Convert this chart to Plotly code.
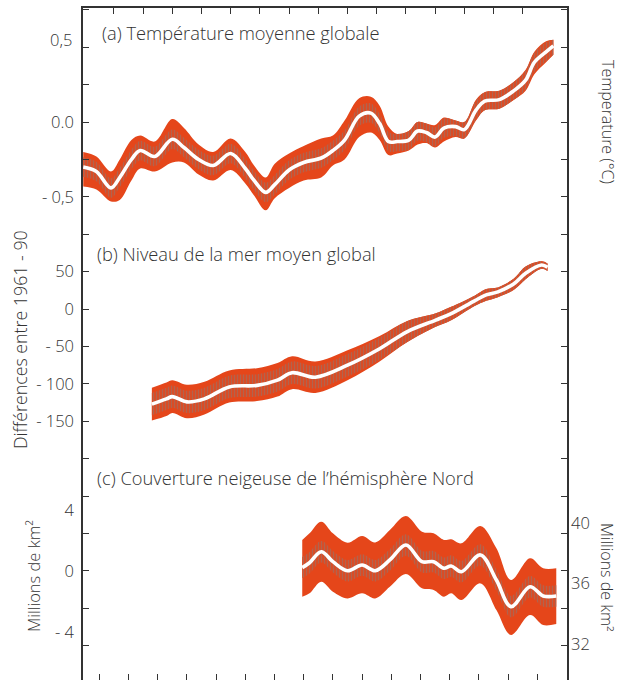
import plotly.graph_objects as go

# ---------------- data ----------------
# (a) Global mean temperature, difference from 1961-90 (°C)
temp_year = [1844.5, 1849, 1854, 1857, 1861, 1864, 1869, 1875, 1879, 1884, 1889,
             1895, 1900, 1903, 1907, 1910, 1915, 1920, 1926, 1930, 1934, 1939,
             1943, 1946, 1949, 1952, 1956, 1959, 1962, 1965, 1968, 1972, 1975,
             1979, 1982, 1987, 1992, 1996, 1999, 2003, 2005.5]
temp_mid = [-0.30, -0.33, -0.44, -0.37, -0.25, -0.19, -0.23, -0.115, -0.17, -0.25, -0.29,
            -0.21, -0.31, -0.39, -0.47, -0.42, -0.32, -0.27, -0.24, -0.19, -0.12, 0.04,
            0.06, -0.01, -0.13, -0.13, -0.12, -0.06, -0.07, -0.10, -0.04, -0.03, -0.05,
            0.08, 0.14, 0.15, 0.21, 0.28, 0.40, 0.47, 0.51]
temp_hi = [-0.20, -0.23, -0.33, -0.25, -0.12, -0.09, -0.13, 0.02, -0.04, -0.15, -0.20,
           -0.11, -0.20, -0.29, -0.37, -0.28, -0.21, -0.16, -0.11, -0.09, 0.01, 0.16,
           0.17, 0.11, -0.03, -0.08, -0.06, 0.0, -0.01, -0.02, 0.03, 0.01, 0.0,
           0.15, 0.20, 0.21, 0.27, 0.35, 0.47, 0.54, 0.55]
temp_lo = [-0.43, -0.45, -0.53, -0.52, -0.39, -0.31, -0.33, -0.27, -0.27, -0.35, -0.39,
           -0.32, -0.41, -0.49, -0.59, -0.51, -0.44, -0.39, -0.37, -0.29, -0.25, -0.10,
           -0.07, -0.12, -0.22, -0.21, -0.19, -0.15, -0.14, -0.17, -0.13, -0.10, -0.11,
           0.01, 0.08, 0.09, 0.15, 0.21, 0.32, 0.40, 0.45]

# (b) Global mean sea level, difference from 1961-90 (mm)
sea_year = [1868, 1873, 1875, 1880, 1886, 1894.5, 1904, 1911, 1916, 1924, 1935,
            1946, 1955.5, 1965, 1970.5, 1978.5, 1982.5, 1986.5, 1992, 1996, 2001.5, 2003.5]
sea_mid = [-127, -120, -117, -124, -120, -104, -102, -95, -85, -91, -75,
           -53, -30, -15, -6, 11, 19, 23, 34, 48, 59, 56]
sea_hi = [-105, -98, -95, -101, -97, -82, -79, -72, -63, -70, -55,
          -36, -16, -6, 3, 18, 27, 29, 41, 57, 64, 61]
sea_lo = [-149, -143, -139, -146, -141, -125, -123, -117, -107, -112, -95,
          -70, -44, -24, -15, 4, 11, 16, 26, 40, 54, 51]

# (c) Northern Hemisphere snow cover, difference from 1961-90 (million km²)
snow_year = [1919.5, 1922, 1926, 1930, 1935, 1940, 1944.5, 1949.5, 1955, 1960.5,
             1964.5, 1968, 1970.5, 1974, 1980.5, 1986, 1991, 1997.5, 2002, 2006.5]
snow_mid = [0.22, 0.54, 1.26, 0.61, 0.02, 0.39, 0.02, 0.72, 1.70, 0.61,
            0.61, 0.18, 0.33, -0.05, 1.05, -0.59, -2.33, -1.03, -1.63, -1.63]
snow_hi = [2.03, 2.46, 3.22, 2.46, 1.85, 2.29, 1.87, 2.68, 3.59, 2.57,
           2.46, 2.03, 2.07, 1.81, 2.94, 1.48, -0.59, 0.83, 0.18, 0.18]
snow_lo = [-1.68, -1.46, -0.70, -1.35, -1.79, -1.46, -1.79, -1.03, -0.20, -1.13,
           -1.24, -1.68, -1.46, -1.90, -0.81, -2.55, -4.18, -2.88, -3.53, -3.46]

# tick labels
temp_tickvals = [0.0, -0.5]
temp_ticktext = ["0.0", "- 0,5"]
temp_top_label = (0.5, "0,5")
sea_tickvals = [50, 0, -50, -100, -150]
sea_ticktext = ["50", "0", "- 50", "- 100", "- 150"]
snow_tickvals = [4, 0, -4]
snow_ticktext = ["4", "0", "- 4"]
abs_tickvals = [40, 36, 32]
abs_ticktext = ["40", "36", "32"]
bottom_ticks = list(range(1850, 2001, 10))
top_ticks = list(range(1855, 1996, 10))

# ---------------- style ----------------
ORANGE = "#E5461A"
HATCH = "#7F7F7F"
TEXT = "#333333"
AXIS = "#333333"
FONT = "Open Sans"
WEIGHT = 300

W, H = 620, 680
ML, MR, MT, MB = 83, 53, 8, 0
PX_L, PX_R, PX_T, PX_B = ML, W - MR, MT, H - MB


def year_at(px):
    return 1850 + (px - 99.3) / 2.92


def lin_range(v0, px0, px_per_unit):
    top = v0 + (px0 - PX_T) / px_per_unit
    bottom = v0 - (PX_B - px0) / px_per_unit
    return [bottom, top]


x_range = [year_at(PX_L), year_at(PX_R)]
temp_range = lin_range(0.0, 122.1, 149.6)
sea_range = lin_range(0.0, 309.1, 0.748)
snow_range = lin_range(0.0, 571.0, 15.3)
abs_range = lin_range(36.0, 583.6, 15.1)

fig = go.Figure()


def add_band(x, lo, hi, mid, xaxis, yaxis, hatch_half):
    spl = dict(width=0, shape="spline", smoothing=1)
    common = dict(x=x, mode="lines", xaxis=xaxis, yaxis=yaxis,
                  hoverinfo="skip", showlegend=False)
    fig.add_trace(go.Scatter(y=lo, line=spl, **common))
    fig.add_trace(go.Scatter(y=hi, line=spl, fill="tonexty",
                             fillcolor=ORANGE, **common))
    h_lo = [max(m - hatch_half, l) for m, l in zip(mid, lo)]
    h_hi = [min(m + hatch_half, h) for m, h in zip(mid, hi)]
    fig.add_trace(go.Scatter(y=h_lo, line=spl, **common))
    fig.add_trace(go.Scatter(y=h_hi, line=spl, fill="tonexty", fillcolor=ORANGE,
                             fillpattern=dict(shape="|", size=3, solidity=0.5,
                                              fgcolor=HATCH, bgcolor=ORANGE),
                             **common))
    fig.add_trace(go.Scatter(y=mid, line=dict(width=3.6, color="white",
                                              shape="spline", smoothing=1),
                             **common))


add_band(temp_year, temp_lo, temp_hi, temp_mid, "x", "y", 0.065)
add_band(sea_year, sea_lo, sea_hi, sea_mid, "x2", "y2", 15)
add_band(snow_year, snow_lo, snow_hi, snow_mid, "x", "y3", 0.7)
# invisible companion so the right-hand (absolute) axis is drawn
fig.add_trace(go.Scatter(x=[snow_year[0]], y=[abs_tickvals[1]], xaxis="x", yaxis="y4",
                         mode="markers", marker=dict(opacity=0), hoverinfo="skip",
                         showlegend=False))

tickfont = dict(family=FONT, size=16.5, color=TEXT, weight=WEIGHT)

frame_ticks = [0.25 * k for k in range(3, -16, -1)]
frame_text = []
for v in frame_ticks:
    lab = ""
    for tv, tt in zip(temp_tickvals, temp_ticktext):
        if abs(v - tv) < 1e-9:
            lab = tt
    frame_text.append(lab)

fig.update_layout(
    width=W, height=H,
    margin=dict(l=ML, r=MR, t=MT, b=MB, pad=0),
    paper_bgcolor="white", plot_bgcolor="white",
    showlegend=False,
    font=dict(family=FONT, color=TEXT, weight=WEIGHT),
    xaxis=dict(range=x_range, showgrid=False, zeroline=False, showline=False,
               tickmode="array", tickvals=bottom_ticks, ticks="inside", ticklen=6,
               tickwidth=1.4, tickcolor=AXIS, showticklabels=False),
    xaxis2=dict(range=x_range, overlaying="x", side="top", anchor="y",
                showgrid=False, zeroline=False, showline=True, linecolor=AXIS,
                linewidth=1.6, tickmode="array", tickvals=top_ticks, ticks="inside",
                ticklen=6, tickwidth=1.4, tickcolor=AXIS, showticklabels=False),
    yaxis=dict(range=temp_range, showgrid=False, zeroline=False, showline=True,
               linecolor=AXIS, linewidth=1.6, mirror="ticks", tickmode="array",
               tickvals=frame_ticks, ticktext=frame_text, ticks="inside", ticklen=6,
               tickwidth=1.4, tickcolor=AXIS, tickfont=tickfont, ticklabelstandoff=4),
    yaxis2=dict(range=sea_range, overlaying="y", side="left", anchor="x",
                showgrid=False, zeroline=False, showline=False, ticks="",
                tickmode="array", tickvals=sea_tickvals, ticktext=sea_ticktext,
                tickfont=tickfont, ticklabelstandoff=8),
    yaxis3=dict(range=snow_range, overlaying="y", side="left", anchor="x",
                showgrid=False, zeroline=False, showline=False, ticks="",
                tickmode="array", tickvals=snow_tickvals, ticktext=snow_ticktext,
                tickfont=tickfont, ticklabelstandoff=8),
    yaxis4=dict(range=abs_range, overlaying="y", side="right", anchor="x",
                showgrid=False, zeroline=False, showline=False, ticks="",
                tickmode="array", tickvals=abs_tickvals, ticktext=abs_ticktext,
                tickfont=tickfont, ticklabelstandoff=3),
)


def px_to_paper_x(px):
    return (px - PX_L) / (PX_R - PX_L)


def px_to_paper_y(py):
    return (PX_B - py) / (PX_B - PX_T)


titlefont = dict(family=FONT, size=18.3, color=TEXT, weight=WEIGHT)
axfont = dict(family=FONT, size=16.5, color=TEXT, weight=WEIGHT)
axfont_big = dict(family=FONT, size=17.8, color=TEXT, weight=WEIGHT)
axfont_r = dict(family=FONT, size=16, color=TEXT, weight=WEIGHT)

annotations = [
    dict(text="(a) Température moyenne globale", x=px_to_paper_x(100),
         y=px_to_paper_y(33), xanchor="left", yanchor="middle", font=titlefont),
    dict(text="(b) Niveau de la mer moyen global", x=px_to_paper_x(95),
         y=px_to_paper_y(253), xanchor="left", yanchor="middle", font=titlefont),
    dict(text="(c) Couverture neigeuse de l’hémisphère Nord", x=px_to_paper_x(95),
         y=px_to_paper_y(477), xanchor="left", yanchor="middle", font=titlefont),
    dict(text="Différences entre 1961 - 90", x=px_to_paper_x(20), y=px_to_paper_y(340),
         xanchor="center", yanchor="middle", textangle=-90, font=axfont_big),
    dict(text="Temperature (°C)", x=px_to_paper_x(608), y=px_to_paper_y(122),
         xanchor="center", yanchor="middle", textangle=90, font=axfont_r),
    dict(text="Millions de km²", x=px_to_paper_x(33), y=px_to_paper_y(576),
         xanchor="center", yanchor="middle", textangle=-90, font=axfont),
    dict(text="Millions de km²", x=px_to_paper_x(607), y=px_to_paper_y(577),
         xanchor="center", yanchor="middle", textangle=90, font=axfont_r),
]
for a in annotations:
    a.update(xref="paper", yref="paper", showarrow=False)

annotations.append(dict(text=temp_top_label[1], xref="paper", yref="y", x=0,
                        y=temp_top_label[0], xanchor="right", yanchor="middle",
                        xshift=-9, yshift=8, showarrow=False, font=tickfont))
fig.update_layout(annotations=annotations)

fig.write_html("out.html", include_plotlyjs=True, config={"displayModeBar": False})
